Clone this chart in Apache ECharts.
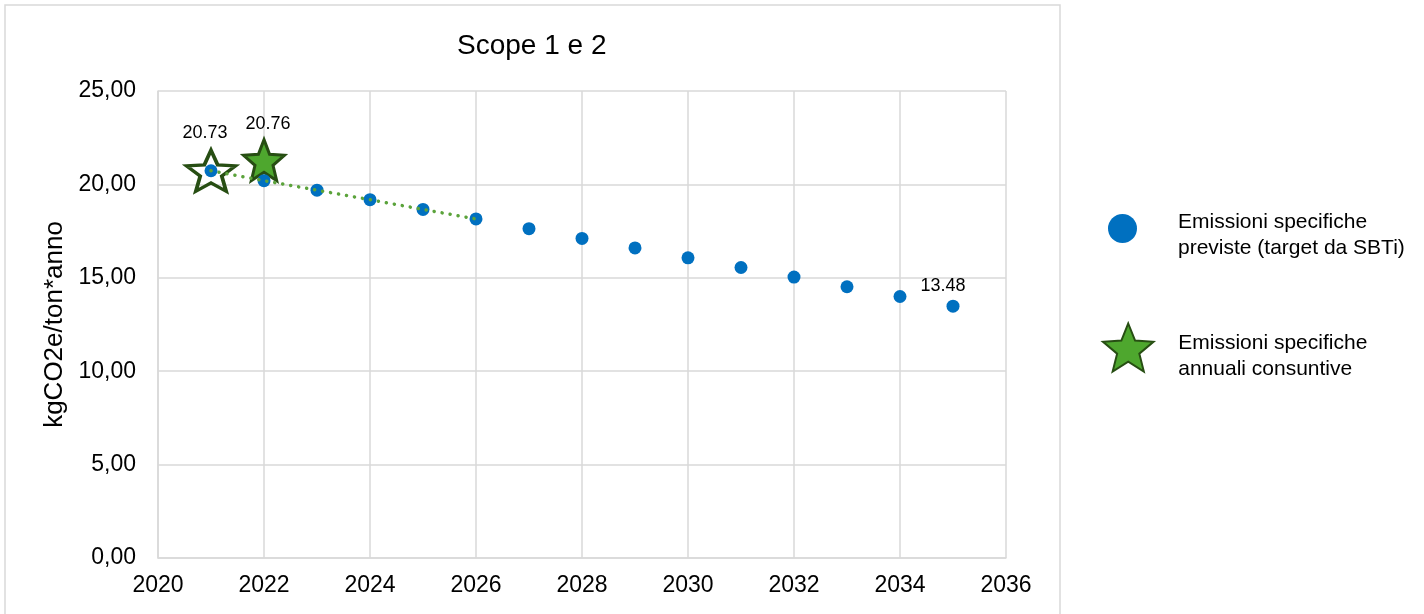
<!DOCTYPE html>
<html>
<head>
<meta charset="utf-8">
<script src="https://cdn.jsdelivr.net/npm/echarts@6/dist/echarts.min.js"></script>
<style>
  html, body { margin: 0; padding: 0; background: #fff; }
  #main { width: 1424px; height: 614px; }
</style>
</head>
<body>
<div id="main"></div>
<script>
// dati
var years = [2021, 2022, 2023, 2024, 2025, 2026, 2027, 2028, 2029, 2030, 2031, 2032, 2033, 2034, 2035];
var target = [20.73, 20.20, 19.69, 19.18, 18.66, 18.15, 17.63, 17.11, 16.60, 16.07, 15.55, 15.04, 14.52, 14.00, 13.48];
var actualYears = [2021, 2022];
var actual = [20.73, 21.30];
var actualLabels = ['20.73', '20.76'];
var trendYears = [2021, 2022, 2023, 2024, 2025, 2026];
var trend = [20.73, 20.20, 19.69, 19.18, 18.66, 18.15];
var seriesNames = ['Emissioni specifiche\npreviste (target da SBTi)', 'Emissioni specifiche\nannuali consuntive'];

var starPath = 'path://M50 0 L62.93 32.2 L97.55 34.55 L70.92 56.8 L79.39 90.45 L50 72 L20.61 90.45 L29.08 56.8 L2.45 34.55 L37.07 32.2 Z';
var font = 'Liberation Sans';

myChart = echarts.init(document.getElementById('main'));

var targetData = target.map(function (v, i) {
    var d = { value: [years[i], v] };
    if (i === target.length - 1) {
        d.label = { show: true, position: 'top', distance: 5, offset: [-10, 0], formatter: v.toFixed(2) };
    }
    return d;
});

var starData = actual.map(function (v, i) {
    var d = {
        value: [actualYears[i], v],
        label: { show: true, position: 'top', distance: 7, formatter: actualLabels[i] }
    };
    if (i === 0) {
        d.symbolSize = [49, 41];
        d.itemStyle = { color: 'transparent', borderColor: '#274E13', borderWidth: 3.5 };
        d.label.offset = [-6, 0];
    } else {
        d.symbolSize = [41, 41];
        d.label.offset = [4, 0];
        d.label.distance = 5;
    }
    return d;
});

// testo legenda su due righe, con una riga vuota in alto per abbassarlo un poco
function legendText(name) {
    return '{s| }\n{a|' + name.split('\n').join('}\n{a|') + '}';
}
function legendRich(gap) {
    return {
        s: { fontSize: 1, lineHeight: gap },
        a: { fontFamily: font, fontSize: 21, color: '#000', lineHeight: 26 }
    };
}

option = {
    textStyle: { fontFamily: font },
    title: {
        text: 'Scope 1 e 2',
        left: 457,
        top: 32,
        padding: 0,
        textStyle: { fontFamily: font, fontSize: 28, fontWeight: 'normal', color: '#000' }
    },
    graphic: [{
        type: 'rect',
        shape: { x: 5, y: 5, width: 1055, height: 630 },
        style: { fill: 'none', stroke: '#D9D9D9', lineWidth: 1.5 },
        silent: true,
        z: -1
    }],
    legend: [{
        data: [seriesNames[0]],
        orient: 'vertical',
        left: 1108,
        top: 202,
        padding: 0,
        itemWidth: 29,
        itemHeight: 29,
        formatter: legendText,
        textStyle: { fontFamily: font, fontSize: 21, color: '#000', padding: [0, 0, 0, 36], rich: legendRich(14) }
    }, {
        data: [seriesNames[1]],
        orient: 'vertical',
        left: 1102,
        top: 321,
        padding: 0,
        itemWidth: 52,
        itemHeight: 48,
        formatter: legendText,
        textStyle: { fontFamily: font, fontSize: 21, color: '#000', padding: [0, 0, 0, 19], rich: legendRich(18) }
    }],
    grid: {
        left: 158,
        right: 418,
        top: 91,
        bottom: 56
    },
    xAxis: {
        type: 'value',
        min: 2020,
        max: 2036,
        interval: 2,
        axisLine: { lineStyle: { color: '#D9D9D9', width: 1.5 } },
        axisTick: { show: false },
        splitLine: { show: true, lineStyle: { color: '#D9D9D9', width: 1.5 } },
        axisLabel: {
            fontFamily: font, fontSize: 23, color: '#000', margin: 16,
            formatter: function (v) { return String(v); }
        }
    },
    yAxis: {
        type: 'value',
        min: 0,
        max: 25,
        interval: 5,
        name: 'kgCO2e/ton*anno',
        nameLocation: 'middle',
        nameGap: 87,
        nameTextStyle: { fontFamily: font, fontSize: 26, color: '#000' },
        axisLine: { show: true, lineStyle: { color: '#D9D9D9', width: 1.5 } },
        axisTick: { show: false },
        splitLine: { lineStyle: { color: '#D9D9D9', width: 1.5 } },
        axisLabel: {
            fontFamily: font, fontSize: 23, color: '#000', margin: 22,
            formatter: function (v) { return v.toFixed(2).replace('.', ','); }
        }
    },
    series: [
        {
            name: seriesNames[1],
            type: 'scatter',
            symbol: starPath,
            symbolKeepAspect: false,
            data: starData,
            itemStyle: { color: '#4EA72E', borderColor: '#274E13', borderWidth: 3, opacity: 1 },
            label: { fontFamily: font, fontSize: 18, color: '#000' },
            z: 2
        },
        {
            name: seriesNames[0],
            type: 'scatter',
            symbol: 'circle',
            symbolSize: 13,
            data: targetData,
            itemStyle: { color: '#0070C0', opacity: 1 },
            label: { fontFamily: font, fontSize: 18, color: '#000' },
            z: 3
        },
        {
            name: 'trend',
            type: 'line',
            data: trendYears.map(function (y, i) { return [y, trend[i]]; }),
            showSymbol: false,
            symbol: 'none',
            lineStyle: { color: '#5BA33B', width: 3.5, type: [0.1, 8], cap: 'round' },
            z: 4
        }
    ]
};
myChart.setOption(option);
</script>
</body>
</html>
